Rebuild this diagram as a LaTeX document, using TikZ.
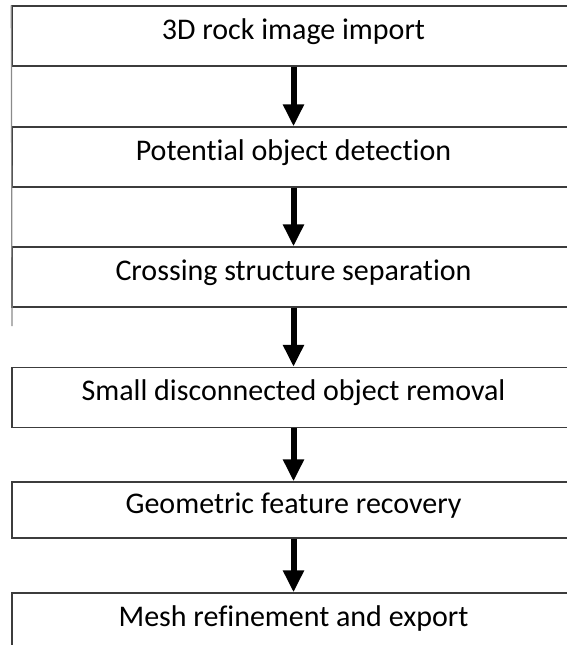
\documentclass[tikz,border=0pt]{standalone}
\usepackage{fontspec}
\setmainfont[Ligatures=NoCommon]{Carlito}
\usetikzlibrary{arrows.meta}

\definecolor{frame}{HTML}{3C3C3C}
\definecolor{rule}{HTML}{8A8A8A}

\begin{document}
\begin{tikzpicture}[x=1pt,y=1pt]

        \clip (0,0) rectangle (567,-645);

        % left rule of the top table, running past its last row
        \coordinate (stub) at (12,-326);

        \begin{scope}[every node/.style={draw=frame, line width=1.4pt, minimum width=563pt, minimum height=60pt,
                      inner sep=0pt, text height=18pt, text depth=12pt, font=\fontsize{30}{36}\selectfont}]
          \node (1) at (293.5,-36)  {3D rock image import};
          \node (2) at (293.5,-157) {Potential object detection};
          \node (3) at (293.5,-277) {Crossing structure separation};
          \node (4) at (293.5,-397.5) {Small disconnected object removal};
          \node[minimum height=56pt] (5) at (293.5,-510) {Geometric feature recovery};
          \node (6) at (293.5,-623) {Mesh refinement and export};
        \end{scope}

        \draw[rule, line width=1.2pt] (1.north west) -- (stub);

        \begin{scope}[every path/.style={line width=6pt, -{Triangle[length=22pt,width=20pt]}}]
          \draw (1) -- (2);
          \draw (2) -- (3);
          \draw (3) -- (4);
          \draw (4) -- (5);
          \draw (5) -- (6);
        \end{scope}

      \end{tikzpicture}
\end{document}
